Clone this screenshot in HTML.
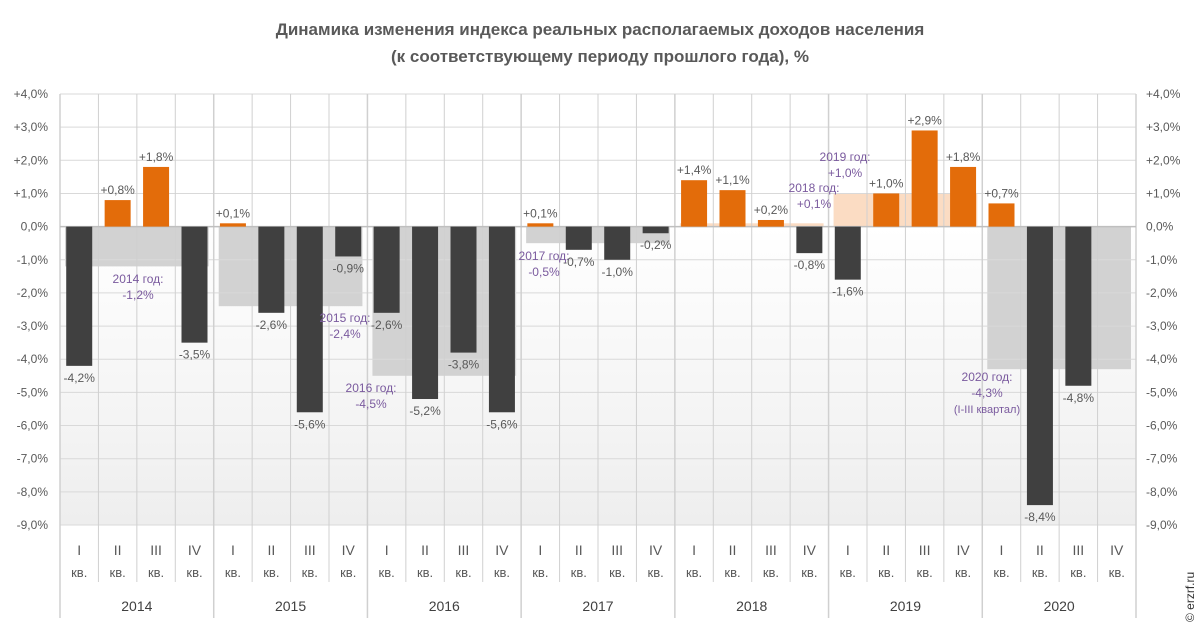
<!DOCTYPE html>
<html><head><meta charset="utf-8">
<style>
body{margin:0;background:#fff;width:1200px;height:628px;overflow:hidden;font-family:"Liberation Sans",sans-serif;}
svg text{font-family:"Liberation Sans",sans-serif;}
</style></head>
<body>
<svg id="chart" width="1200" height="628" viewBox="0 0 1200 628" xmlns="http://www.w3.org/2000/svg">
<defs>
<linearGradient id="bg" x1="0" y1="0" x2="0" y2="1">
<stop offset="0" stop-color="#ffffff"/><stop offset="1" stop-color="#eeeeee"/>
</linearGradient>
</defs>
<text x="600" y="35" text-anchor="middle" font-size="17" font-weight="bold" fill="#595959">Динамика изменения индекса реальных располагаемых доходов населения</text>
<text x="600" y="62" text-anchor="middle" font-size="17" font-weight="bold" fill="#595959">(к соответствующему  периоду прошлого года), %</text>
<g id="g"></g>
<text transform="translate(1194,622) rotate(-90)" font-size="12" fill="#333">© erzrf.ru</text>
</svg>
<script>
const years = ["2014","2015","2016","2017","2018","2019","2020"];
const quarters = ["I","II","III","IV"];
const quarterValues = [-4.2,0.8,1.8,-3.5, 0.1,-2.6,-5.6,-0.9, -2.6,-5.2,-3.8,-5.6, 0.1,-0.7,-1.0,-0.2, 1.4,1.1,0.2,-0.8, -1.6,1.0,2.9,1.8, 0.7,-8.4,-4.8,null];
const annualValues = [-1.2,-2.4,-4.5,-0.5,0.1,1.0,-4.3];
const yTicks = [4,3,2,1,0,-1,-2,-3,-4,-5,-6,-7,-8,-9];

const NS="http://www.w3.org/2000/svg";
const g=document.getElementById('g');
const X0=60,X1=1136,Y0=94,Y1=525,VMAX=4,VMIN=-9;
const qw=(X1-X0)/quarterValues.length;
const y=v=>Y0+(VMAX-v)/(VMAX-VMIN)*(Y1-Y0);
const qx=i=>X0+i*qw;
function el(t,a,txt){const e=document.createElementNS(NS,t);for(const k in a)e.setAttribute(k,a[k]);if(txt!==undefined)e.textContent=txt;g.appendChild(e);return e;}
function fmt(v){return (v>0?'+':'')+v.toFixed(1).replace('.',',')+'%';}

let e=el('rect',{x:X0,y:y(0),width:X1-X0,height:Y1-y(0),fill:'url(#bg)'});



// annual bands
annualValues.forEach((v,i)=>{
  const a=qx(i*4)+5,b=qx(i*4+4)-5;
  const r=el('rect',{x:a,y:Math.min(y(0),y(v)),width:b-a,height:Math.abs(y(v)-y(0)),fill:v>=0?'#fbdcc3':'#d2d2d2'});
  
  
});

// grid
yTicks.forEach(t=>{
  const l=el('line',{x1:X0,x2:X1,y1:y(t),y2:y(t),stroke:'#d9d9d9','stroke-width':1});
  
  
  const a=el('text',{x:X0-12,y:y(t)+4,'text-anchor':'end','font-size':12,fill:'#595959'},fmt(t));
  
  
  const b=el('text',{x:X1+10,y:y(t)+4,'font-size':12,fill:'#595959'},fmt(t));
  
  
});
for(let i=0;i<=quarterValues.length;i++){
  const yr=i%4===0;
  const l=el('line',{x1:qx(i),x2:qx(i),y1:Y0,y2:yr?618:582,stroke:'#d0d0d0','stroke-width':yr?1.5:1});
  
  
}
el('line',{x1:X0,x2:X1,y1:y(0),y2:y(0),stroke:'#bfbfbf','stroke-width':1.5});

// bars
quarterValues.forEach((v,i)=>{
  if(v===null)return;
  const bw=26,cx=qx(i)+qw/2;
  const r=el('rect',{x:cx-bw/2,y:Math.min(y(0),y(v)),width:bw,height:Math.abs(y(v)-y(0)),fill:v>=0?'#e36c0a':'#404040'});
  
  
  const t=el('text',{x:cx,y:v>=0?y(v)-6:y(v)+16,'text-anchor':'middle','font-size':12,fill:'#595959'},fmt(v));
  
  
});

// annual labels
const annPos=[[138,283],[345,322],[371,392],[544,260],[814,192],[845,161],[987,381]];
annualValues.forEach((v,i)=>{
  const [cx,cy]=annPos[i];
  const lines=[years[i]+' год:',fmt(v)];
  if(i===6)lines.push('(I-III квартал)');
  lines.forEach((s,k)=>{
    const t=el('text',{x:cx,y:cy+k*16,'text-anchor':'middle','font-size':k===2?11:12,fill:'#7a5a9e'},s);
    
    
  });
});

// categories
quarterValues.forEach((v,i)=>{
  const cx=qx(i)+qw/2;
  const a=el('text',{x:cx,y:555,'text-anchor':'middle','font-size':14,fill:'#595959'},quarters[i%4]);
  
  
  const b=el('text',{x:cx,y:577,'text-anchor':'middle','font-size':13,fill:'#595959'},'кв.');
  
  
});
years.forEach((yv,i)=>{
  const t=el('text',{x:qx(i*4+2),y:611,'text-anchor':'middle','font-size':14,fill:'#404040'},yv);
  
  
});
</script>
</body></html>
